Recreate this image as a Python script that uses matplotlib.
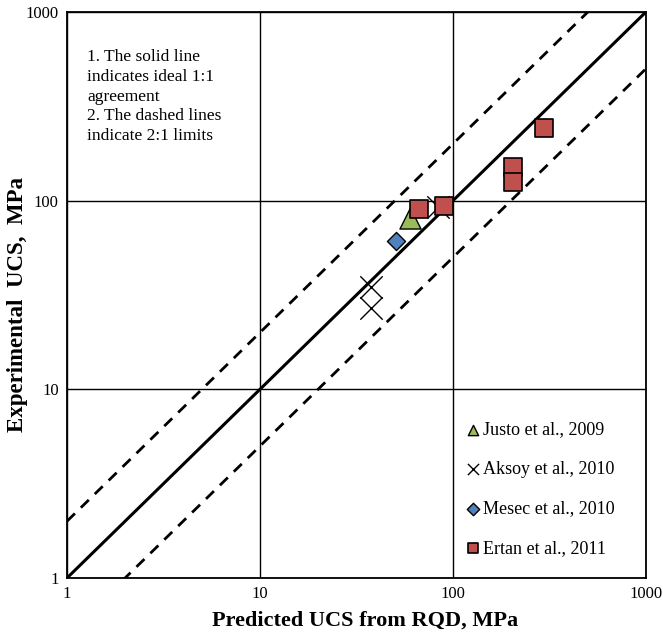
import matplotlib
matplotlib.use('Agg')
import matplotlib.pyplot as plt

# data (predicted, experimental UCS in MPa)
justo_x = [60]
justo_y = [81]
aksoy_x = [37.5, 37.5, 84]
aksoy_y = [35, 27, 93]
mesec_x = [51]
mesec_y = [61]
ertan_x = [67, 90, 205, 205, 296]
ertan_y = [90, 94, 151, 125, 243]

line_x = [1, 1000]

plt.rcParams['font.family'] = ['Liberation Serif', 'DejaVu Serif']

fig = plt.figure(figsize=(6.63, 6.38), dpi=100)
ax = fig.add_axes([0.101, 0.094, 0.873, 0.887])

# 1:1 line and 2:1 limits
ax.plot(line_x, line_x, color='black', linewidth=2.2, zorder=2)
ax.plot(line_x, [2 * v for v in line_x], color='black', linewidth=2, linestyle=(0, (4, 3)), zorder=2)
ax.plot(line_x, [v / 2 for v in line_x], color='black', linewidth=2, linestyle=(0, (4, 3)), zorder=2)

ax.scatter(justo_x, justo_y, marker='^', s=230, color='#9bbb59', edgecolor='black', linewidth=1, zorder=3,
           label='Justo et al., 2009')
ax.scatter(aksoy_x, aksoy_y, marker='x', s=260, color='black', linewidth=1, zorder=3,
           label='Aksoy et al., 2010')
ax.scatter(mesec_x, mesec_y, marker='D', s=85, color='#4f81bd', edgecolor='black', linewidth=1, zorder=3,
           label='Mesec et al., 2010')
ax.scatter(ertan_x, ertan_y, marker='s', s=160, color='#c0504d', edgecolor='black', linewidth=1.2, zorder=4,
           label='Ertan et al., 2011')

ax.set_xscale('log')
ax.set_yscale('log')
ax.set_xlim(1, 1000)
ax.set_ylim(1, 1000)
ax.set_xticks([1, 10, 100, 1000])
ax.set_yticks([1, 10, 100, 1000])
ax.set_xticklabels(['1', '10', '100', '1000'])
ax.set_yticklabels(['1', '10', '100', '1000'])
ax.minorticks_off()
ax.tick_params(length=0, labelsize=12, pad=6)
ax.grid(True, color='black', linewidth=1)
ax.set_axisbelow(True)
for s in ax.spines.values():
    s.set_linewidth(1.3)

ax.set_xlabel('Predicted UCS from RQD, MPa', fontsize=16, fontweight='bold')
ax.xaxis.set_label_coords(0.515, -0.058)
ax.set_ylabel('Experimental  UCS,  MPa', fontsize=16.5, fontweight='bold')
ax.yaxis.set_label_coords(-0.067, 0.484)

ax.text(0.035, 0.935, '1. The solid line\nindicates ideal 1:1\nagreement\n2. The dashed lines\nindicate 2:1 limits',
        transform=ax.transAxes, fontsize=12.5, va='top', ha='left', linespacing=1.32,
        bbox=dict(facecolor='white', edgecolor='none', pad=2))

leg = ax.legend(loc='lower right', bbox_to_anchor=(0.999, -0.017), frameon=False,
                fontsize=13, labelspacing=1.25, handletextpad=0.05, handlelength=1.0, borderpad=1.2)
for h, sz in zip(leg.legend_handles, [55, 65, 40, 60]):
    h.set_sizes([sz])

fig.savefig('out.png', dpi=100)
